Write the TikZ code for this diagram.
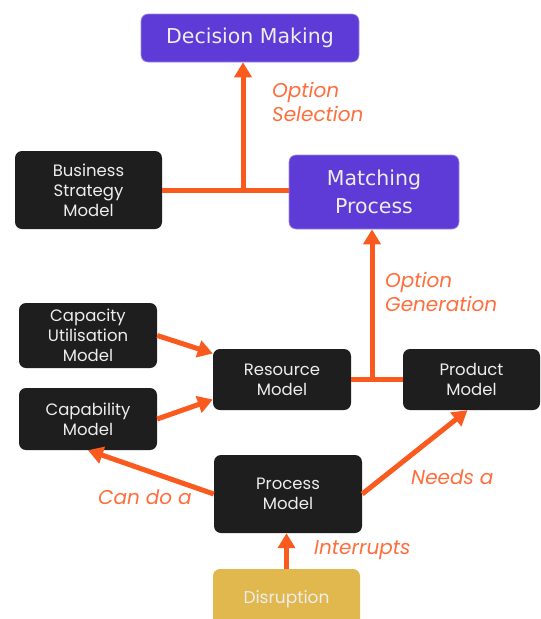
\documentclass[tikz,border=0pt]{standalone}
\usepackage{fontspec}
\setmainfont{DejaVu Sans}
\newfontfamily\boxfont{Poppins}
\newfontfamily\labelfont{Poppins}
\usetikzlibrary{arrows.meta,positioning}

\definecolor{flow}{HTML}{FA5A1E}
\definecolor{flowtext}{HTML}{FF6E3C}
\definecolor{violet}{HTML}{5E3BD6}
\definecolor{coal}{HTML}{1E1E1E}
\definecolor{gold}{HTML}{E1B84E}
\definecolor{paper}{HTML}{EDEDED}

\tikzset{
  base/.style={rounded corners=7pt, align=center, inner sep=0pt, text=paper},
  mainbox/.style={base, fill=violet, draw=violet!60!white, line width=0.6pt, font=\fontsize{20.5}{28}\selectfont},
  modelbox/.style={base, fill=coal, font=\boxfont\fontsize{16.5}{20}\selectfont},
  eventbox/.style={base, fill=gold, font=\boxfont\fontsize{17}{20}\selectfont},
  link/.style={draw=flow, line width=5pt},
  flowarrow/.style={link, -{Triangle[length=15pt,width=17pt]}},
  edgelabel/.style={text=flowtext, align=left, inner sep=0pt,
    font=\labelfont\itshape\fontsize{20}{24}\selectfont}
}

\begin{document}
\begin{tikzpicture}[x=1pt,y=-1pt]
  \useasboundingbox (0,0) rectangle (541,619);
  \fill[white] (0,0) rectangle (541,619);

  % boxes
  \node[mainbox, minimum width=218pt, minimum height=48pt] (decision) at (250,38) {Decision Making};
  \node[modelbox, minimum width=147pt, minimum height=78pt] (strategy) at (88.5,190) {Business\\Strategy\\Model};
  \node[mainbox, minimum width=170pt, minimum height=74pt] (matching) at (374,192) {Matching\\Process};
  \node[modelbox, minimum width=138pt, minimum height=65pt] (capacity) at (88,335.5) {Capacity\\Utilisation\\Model};
  \node[modelbox, minimum width=138pt, minimum height=62pt] (capability) at (88,419) {Capability\\Model};
  \node[modelbox, minimum width=138pt, minimum height=61pt] (resource) at (282,379.5) {Resource\\Model};
  \node[modelbox, minimum width=137pt, minimum height=61pt] (product) at (471.5,379.5) {Product\\Model};
  \node[modelbox, minimum width=148pt, minimum height=78pt] (process) at (288,494) {Process\\Model};
  \node[eventbox, minimum width=147pt, minimum height=60pt] (disruption) at (286.5,599) {Disruption};

  % junction points on the joining lines
  \coordinate (selectjoin) at (243,190);
  \coordinate (genjoin) at (372,379.5);

  % option selection
  \draw[link] (strategy.east) -- (strategy.east -| matching.west);
  \draw[flowarrow] (selectjoin) -- (selectjoin |- decision.south);
  \node[edgelabel, anchor=north west] (selectlabel) at (272,82) {Option\\Selection};

  % option generation
  \draw[link] (resource.east) -- (product.west);
  \draw[flowarrow] (genjoin) -- (genjoin |- matching.south);
  \node[edgelabel, anchor=north west] (genlabel) at (385,272) {Option\\Generation};

  % resource inputs
  \draw[flowarrow] (capacity.east) -- ([yshift=26pt]resource.west);
  \draw[flowarrow] (capability.east) -- ([yshift=-20pt]resource.west);

  % process relations
  \draw[flowarrow] (process.west) -- (capability.south);
  \node[edgelabel] (cando) at (145,497) {Can do a};
  \draw[flowarrow] (process.east) -- ([xshift=-4pt]product.south);
  \node[edgelabel, anchor=west] (needs) at (411,477) {Needs a};
  \draw[flowarrow] (disruption.north) -- (disruption.north |- process.south);
  \node[edgelabel, anchor=west] (interrupts) at (314,550) {Interrupts};
\end{tikzpicture}
\end{document}
